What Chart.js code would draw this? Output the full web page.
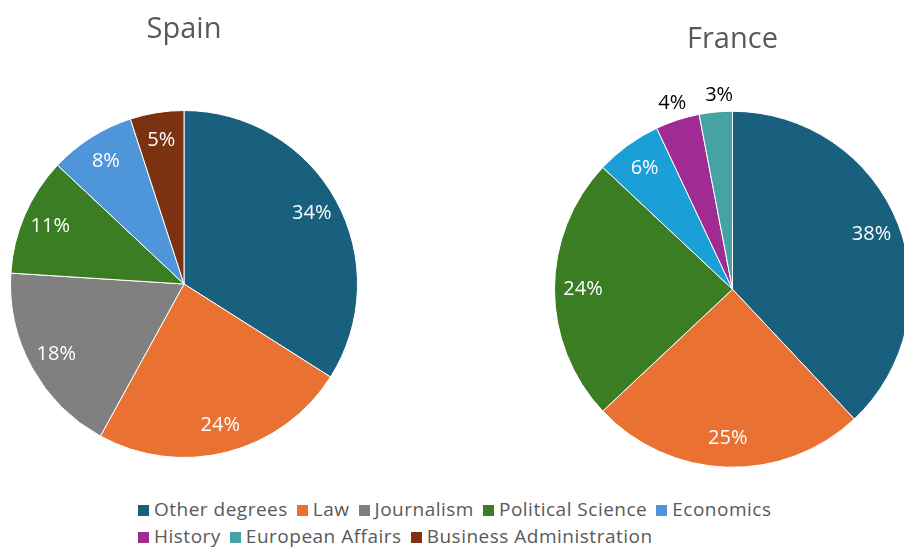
<!DOCTYPE html>
<html>
<head>
    <title>Degrees by country</title>
    <script src="https://cdn.jsdelivr.net/npm/chart.js"></script>
    <style>
        html, body {
            margin: 0;
            padding: 0;
            background: #ffffff;
            overflow: hidden;
            width: 904px;
            height: 550px;
        }
        canvas {
            position: absolute;
        }
        #spainChart { left: 0px; top: 0px; }
        #franceChart { left: 544px; top: 0px; }
        .legend {
            position: absolute;
            left: 138px;
            font-family: "Open Sans", "Liberation Sans", sans-serif;
            font-size: 19px;
            letter-spacing: 0.5px;
            color: #595959;
            white-space: nowrap;
        }
        .legend-row {
            height: 27px;
            line-height: 27px;
        }
        .legend-item {
            display: inline-block;
            margin-right: 9px;
        }
        .legend-item i {
            display: inline-block;
            width: 11px;
            height: 11px;
            margin-right: 5px;
            vertical-align: 0px;
        }
    </style>
</head>
<body>
    <canvas id="spainChart" width="368" height="460"></canvas>
    <canvas id="franceChart" width="377" height="470"></canvas>
    <div class="legend" id="legend" style="top: 496px;"></div>

    <script>
        // degree shares (%) per country, slices clockwise from 12 o'clock
        const spainDegrees = ['Other degrees', 'Law', 'Journalism', 'Political Science', 'Economics', 'Business Administration'];
        const spainShares = [34, 24, 18, 11, 8, 5];

        const franceDegrees = ['Other degrees', 'Law', 'Political Science', 'Economics', 'History', 'European Affairs'];
        const franceShares = [38, 25, 24, 6, 4, 3];

        // legend rows
        const legendRow1 = ['Other degrees', 'Law', 'Journalism', 'Political Science', 'Economics'];
        const legendRow2 = ['History', 'European Affairs', 'Business Administration'];

        const degreeColors = {
            'Other degrees': '#19607f',
            'Law': '#e97132',
            'Journalism': '#808080',
            'Political Science': '#3b7d23',
            'Economics': '#4e95d9',
            'History': '#a02b93',
            'European Affairs': '#45a3a3',
            'Business Administration': '#7b3211'
        };
        // the France pie uses a brighter blue for Economics
        const franceColors = Object.assign({}, degreeColors, { 'Economics': '#1a9fd6' });

        const labelFont = '20px "Open Sans", "Liberation Sans", sans-serif';

        // percentage labels: inside the slice, or just outside for thin slices
        const sliceLabels = {
            id: 'sliceLabels',
            afterDatasetsDraw(chart, args, opts) {
                const ctx = chart.ctx;
                const meta = chart.getDatasetMeta(0);
                const values = chart.data.datasets[0].data;
                ctx.save();
                ctx.font = labelFont;
                ctx.textAlign = 'center';
                ctx.textBaseline = 'middle';
                meta.data.forEach((arc, i) => {
                    const p = arc.getProps(['x', 'y', 'startAngle', 'endAngle', 'outerRadius']);
                    const mid = (p.startAngle + p.endAngle) / 2;
                    const outside = values[i] < opts.outsideBelow;
                    const dist = outside ? p.outerRadius + 17 : p.outerRadius * 0.84;
                    // thin slices at the top get a little extra room so labels don't collide
                    const nudge = outside && values[i] < 4 ? 5 : 0;
                    ctx.fillStyle = outside ? '#000000' : '#ffffff';
                    ctx.fillText(values[i] + '%', p.x + Math.cos(mid) * dist + nudge, p.y + Math.sin(mid) * dist);
                });
                ctx.restore();
            }
        };

        function makePie(id, title, labels, values, colors, titlePad, outsideBelow) {
            const ctx = document.getElementById(id).getContext('2d');
            return new Chart(ctx, {
                type: 'pie',
                data: {
                    labels: labels,
                    datasets: [{
                        data: values,
                        backgroundColor: labels.map(l => colors[l]),
                        borderColor: '#ffffff',
                        borderWidth: 1
                    }]
                },
                options: {
                    responsive: false,
                    animation: false,
                    layout: { padding: { left: 10, right: 10, top: 0, bottom: 2 } },
                    plugins: {
                        legend: { display: false },
                        tooltip: { enabled: false },
                        title: {
                            display: true,
                            text: title,
                            color: '#595959',
                            font: { family: '"Open Sans", "Liberation Sans", sans-serif', size: 29, weight: 'normal' },
                            padding: titlePad
                        },
                        sliceLabels: { outsideBelow: outsideBelow }
                    }
                },
                plugins: [sliceLabels]
            });
        }

        makePie('spainChart', 'Spain', spainDegrees, spainShares, degreeColors, { top: 12.6, bottom: 62.6 }, 0);
        makePie('franceChart', 'France', franceDegrees, franceShares, franceColors, { top: 22.6, bottom: 53.1 }, 5);

        // shared legend under both pies
        const legend = document.getElementById('legend');
        [legendRow1, legendRow2].forEach(row => {
            const div = document.createElement('div');
            div.className = 'legend-row';
            row.forEach(name => {
                const item = document.createElement('span');
                item.className = 'legend-item';
                const sw = document.createElement('i');
                sw.style.background = degreeColors[name];
                item.appendChild(sw);
                item.appendChild(document.createTextNode(name));
                div.appendChild(item);
            });
            legend.appendChild(div);
        });
    </script>
</body>
</html>
